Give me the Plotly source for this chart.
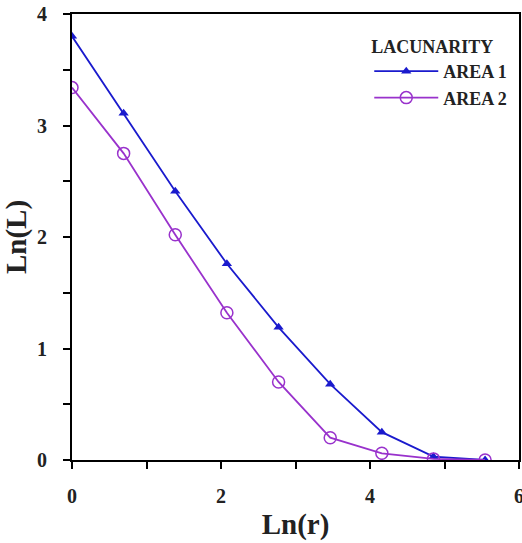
import plotly.graph_objects as go

x_ln_r = [0.0, 0.693, 1.386, 2.079, 2.773, 3.466, 4.159, 4.852, 5.545]
area1 = [3.80, 3.11, 2.41, 1.76, 1.19, 0.68, 0.25, 0.03, 0.00]
area2 = [3.34, 2.75, 2.02, 1.32, 0.70, 0.20, 0.06, 0.01, 0.00]

font_family = "Liberation Serif"

fig = go.Figure()
fig.add_trace(go.Scatter(
    x=x_ln_r, y=area1, mode="lines+markers", name="AREA 1",
    line=dict(color="#1a1acd", width=1.8),
    marker=dict(symbol="triangle-up", size=9, color="#1a1acd"),
))
fig.add_trace(go.Scatter(
    x=x_ln_r, y=area2, mode="lines+markers", name="AREA 2",
    line=dict(color="#9932cc", width=1.8),
    marker=dict(symbol="circle-open", size=12, color="#9932cc", line=dict(width=1.5)),
))

tickfont = dict(family=font_family, size=20, color="#222", weight="bold")
titlefont = dict(family=font_family, size=29, color="#222", weight="bold")

def axis_style(minor_dtick, pad):
    return dict(
        showline=True, linecolor="black", linewidth=2, mirror=True,
        ticks="outside", ticklen=7, tickwidth=2, tickcolor="black",
        showgrid=False, zeroline=False, automargin=False,
        ticklabeloverflow="allow", ticklabelstandoff=pad,
        tickfont=tickfont,
        minor=dict(dtick=minor_dtick, ticks="outside", ticklen=7, tickwidth=2, tickcolor="black"),
    )

fig.update_xaxes(range=[0, 6], dtick=2, tick0=0,
                 title=dict(text="Ln(r)", font=titlefont, standoff=8),
                 **axis_style(1, 10))
fig.update_yaxes(range=[0, 4], dtick=1, tick0=0,
                 title=dict(text="Ln(L)", font=titlefont, standoff=10),
                 **axis_style(0.5, 12))

fig.update_layout(
    width=522, height=543,
    margin=dict(l=72, r=3, t=14, b=83),
    plot_bgcolor="white", paper_bgcolor="white",
    font=dict(family=font_family, color="#222"),
    legend=dict(
        x=0.665, y=0.965, xanchor="left", yanchor="top",
        title=dict(text="LACUNARITY", font=dict(family=font_family, size=18, color="#222", weight="bold"), side="top"),
        font=dict(family=font_family, size=18, color="#222", weight="bold"),
        bgcolor="rgba(255,255,255,0)", itemwidth=64, tracegroupgap=0,
    ),
)

fig.write_html("out.html")
